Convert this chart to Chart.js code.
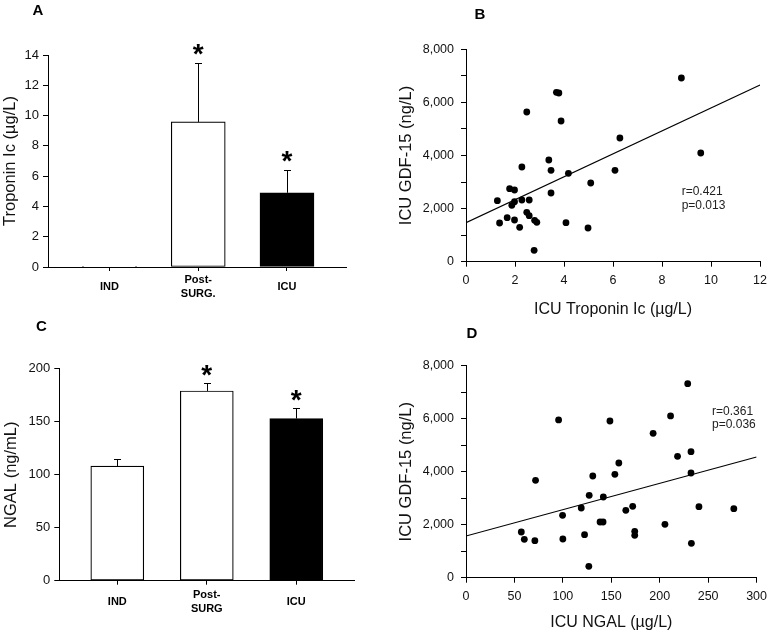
<!DOCTYPE html>
<html><head><meta charset="utf-8">
<script src="https://cdn.jsdelivr.net/npm/chart.js@4.4.1/dist/chart.umd.min.js"></script>
<style>
html,body{margin:0;padding:0;background:#fff;}
#wrap{position:relative;width:773px;height:634px;overflow:hidden;background:#fff;}
canvas{position:absolute;}
</style></head><body>
<div id="wrap">
<canvas id="cA" width="390" height="310" style="left:0;top:0"></canvas>
<canvas id="cB" width="383" height="320" style="left:390px;top:0"></canvas>
<canvas id="cC" width="390" height="317" style="left:0;top:317px"></canvas>
<canvas id="cD" width="383" height="317" style="left:390px;top:317px"></canvas>
</div>
<script>
// ---------- DATA ----------
// Panel A: Troponin Ic bars
const catA = ['IND', 'Post-\nSURG.', 'ICU'];
const troponinMean = [0.05, 9.58, 4.9];
const troponinErr = [0, 3.87, 1.5];
const troponinSig = [false, true, true];

// Panel C: NGAL bars
const catC = ['IND', 'Post-\nSURG', 'ICU'];
const ngalMean = [108.2, 179, 153];
const ngalErr = [6.3, 7.8, 10];
const ngalSig = [false, true, true];

// Panel B: ICU Troponin Ic vs ICU GDF-15
const tropX = [8.79, 9.58, 3.69, 3.79, 2.48, 3.88, 6.28, 3.38, 2.28, 3.47, 4.18, 6.08, 5.09, 3.47, 1.78, 1.98,
               1.28, 2.28, 2.58, 1.98, 1.87, 2.48, 2.58, 2.80, 2.89, 1.68, 1.98, 1.37, 2.19, 4.08, 4.98, 2.78];
const gdfB = [6919, 4094, 6380, 6354, 5638, 5299, 4659, 3830, 3567, 3442, 3329, 3442, 2964, 2588, 2750, 2700,
              2298, 2324, 2324, 2260, 2124, 1861, 1733, 1559, 1484, 1657, 1571, 1458, 1296, 1469, 1269, 429];
const fitBx = [0, 12];
const fitBy = [1470, 6658];
const statsB = ['r=0.421', 'p=0.013'];
const statsBAt = [8.8, 2620];

// Panel D: ICU NGAL vs ICU GDF-15
const ngalX = [228.9, 95.6, 148.6, 211.2, 193.2, 218.4, 232.3, 232.3, 157.8, 153.7, 130.9, 71.8, 127.2, 141.8, 119.0, 172.1,
               165.0, 240.5, 276.5, 99.7, 138.4, 141.5, 205.4, 57.1, 174.2, 174.2, 60.2, 71.1, 100.0, 122.4, 232.7, 126.8];
const gdfD = [7322, 5952, 5914, 6103, 5450, 4581, 4755, 3951, 4329, 3902, 3838, 3676, 3110, 3046, 2630, 2695,
              2544, 2680, 2604, 2355, 2102, 2102, 2015, 1725, 1751, 1600, 1449, 1396, 1461, 1623, 1298, 430];
const fitDx = [0, 300];
const fitDy = [1572, 4553];
const statsD = ['r=0.361', 'p=0.036'];
const statsDAt = [254, 6272];

// ---------- STYLE / HELPERS ----------
const FONT = "'Liberation Sans', Arial, Helvetica, sans-serif";
Chart.defaults.font.family = FONT;
Chart.defaults.color = '#111';

const annotPlugin = {
  id: 'annot',
  afterDatasetsDraw(chart, args, o) {
    const ctx = chart.ctx;
    ctx.save();
    ctx.fillStyle = '#000';
    ctx.strokeStyle = '#000';
    ctx.lineWidth = 1;
    if (o.err) {
      const meta = chart.getDatasetMeta(0);
      const ys = chart.scales.y;
      meta.data.forEach((bar, i) => {
        const e = o.err[i];
        const top = ys.getPixelForValue(o.mean[i] + e);
        const x = Math.round(bar.x) + 0.5;
        if (e > 0) {
          ctx.beginPath();
          ctx.moveTo(x, bar.y); ctx.lineTo(x, Math.round(top) + 0.5);
          ctx.moveTo(x - 3.5, Math.round(top) + 0.5); ctx.lineTo(x + 3.5, Math.round(top) + 0.5);
          ctx.stroke();
        }
        if (o.sig[i]) {
          ctx.font = 'bold 28px ' + FONT;
          ctx.textAlign = 'center';
          ctx.textBaseline = 'alphabetic';
          const m = ctx.measureText('*');
          const cy = top - o.starGap;
          ctx.fillText('*', bar.x, cy + (m.actualBoundingBoxAscent - m.actualBoundingBoxDescent) / 2);
        }
      });
    }
    if (o.stats) {
      ctx.font = '12px ' + FONT;
      ctx.fillStyle = '#222';
      ctx.textAlign = 'left';
      ctx.textBaseline = 'middle';
      const x = chart.scales.x.getPixelForValue(o.statsAt[0]);
      const y = chart.scales.y.getPixelForValue(o.statsAt[1]);
      o.stats.forEach((t, i) => ctx.fillText(t, x, y + i * 13.5));
    }
    if (o.letter) {
      ctx.font = 'bold 15px ' + FONT;
      ctx.fillStyle = '#000';
      ctx.textAlign = 'center';
      ctx.textBaseline = 'middle';
      ctx.fillText(o.letter, o.letterPos[0], o.letterPos[1]);
    }
    ctx.restore();
  }
};

const gridOpts = (tl) => ({ display: true, drawOnChartArea: false, drawTicks: true, tickLength: tl, color: '#000', lineWidth: 1 });
const borderOpts = { display: true, color: '#000', width: 1 };

function barChart(id, cats, mean, err, sig, cfg) {
  return new Chart(document.getElementById(id), {
    type: 'bar',
    data: {
      datasets: [{
        data: mean.map((v, i) => ({ x: i + 1, y: v })),
        backgroundColor: ['#ffffff', '#ffffff', '#000000'],
        borderColor: '#000',
        borderWidth: 1.2,
        borderSkipped: false,
        barThickness: cfg.barW
      }]
    },
    options: {
      responsive: false, animation: false,
      layout: { padding: cfg.pad },
      plugins: {
        legend: { display: false }, tooltip: { enabled: false },
        annot: { err, mean, sig, starGap: cfg.starGap, letter: cfg.letter, letterPos: cfg.letterPos }
      },
      scales: {
        x: {
          type: 'linear', min: cfg.xMin, max: cfg.xMax, offset: false,
          afterBuildTicks: s => { s.ticks = cats.map((c, i) => ({ value: i + 1 })); },
          ticks: {
            autoSkip: false, maxRotation: 0, crossAlign: 'center', padding: cfg.xPad, color: '#000',
            font: { size: 11, weight: 'bold', lineHeight: 1.3 },
            callback: v => cats[v - 1].split('\n')
          },
          grid: { ...gridOpts(4), offset: false }, border: borderOpts,
          afterFit: s => { s.height = cfg.xH; }
        },
        y: {
          min: 0, max: cfg.yMax,
          ticks: { stepSize: cfg.yStep, padding: 4, color: '#111', font: { size: 13 } },
          grid: gridOpts(5), border: borderOpts,
          title: { display: true, text: cfg.yTitle, color: '#111', font: { size: 16.5 }, padding: { top: cfg.yTitlePad, bottom: 0 } },
          afterFit: s => { s.width = cfg.yW; }
        }
      }
    },
    plugins: [annotPlugin]
  });
}

function scatterChart(id, xs, ys, fx, fy, stats, statsAt, cfg) {
  return new Chart(document.getElementById(id), {
    type: 'scatter',
    data: {
      datasets: [
        { data: xs.map((x, i) => ({ x, y: ys[i] })), backgroundColor: '#000', borderColor: '#000', pointRadius: 3.4, pointBorderWidth: 0 },
        { data: fx.map((x, i) => ({ x, y: fy[i] })), showLine: true, borderColor: '#000', borderWidth: 1.2, pointRadius: 0 }
      ]
    },
    options: {
      responsive: false, animation: false,
      layout: { padding: cfg.pad },
      plugins: {
        legend: { display: false }, tooltip: { enabled: false },
        annot: { stats, statsAt, letter: cfg.letter, letterPos: cfg.letterPos }
      },
      scales: {
        x: {
          type: 'linear', min: 0, max: cfg.xMax,
          ticks: { stepSize: cfg.xStep, autoSkip: false, maxRotation: 0, padding: cfg.xPad, color: '#111', font: { size: 12.5 } },
          grid: gridOpts(5), border: borderOpts,
          title: { display: true, text: cfg.xTitle, color: '#111', font: { size: 16 }, padding: { top: 0, bottom: cfg.xTitlePad } },
          afterFit: s => { s.height = cfg.xH; }
        },
        y: {
          min: 0, max: 8000,
          ticks: { stepSize: 1000, autoSkip: false, padding: 7, color: '#111', font: { size: 12.5 },
                   callback: v => (v % 2000 === 0 ? v.toLocaleString('en-US') : '') },
          grid: gridOpts(5), border: borderOpts,
          title: { display: true, text: 'ICU GDF-15 (ng/L)', color: '#111', font: { size: 16.5 }, padding: { top: cfg.yTitlePad, bottom: 0 } },
          afterFit: s => { s.width = cfg.yW; }
        }
      }
    },
    plugins: [annotPlugin]
  });
}

// ---------- CHARTS ----------
barChart('cA', catA, troponinMean, troponinErr, troponinSig, {
  barW: 54, xMin: 0.307, xMax: 3.665, yMax: 14, yStep: 2, yTitle: 'Troponin Ic (µg/L)',
  pad: { top: 55, right: 44, left: 0, bottom: 0 }, xH: 43, yW: 48, xPad: 9, yTitlePad: 1,
  starGap: 14, letter: 'A', letterPos: [38, 10.5]
});
barChart('cC', catC, ngalMean, ngalErr, ngalSig, {
  barW: 53, xMin: 0.352, xMax: 3.645, yMax: 200, yStep: 50, yTitle: 'NGAL (ng/mL)',
  pad: { top: 51.7, right: 36, left: 0, bottom: 0 }, xH: 53.3, yW: 59.3, xPad: 10, yTitlePad: 2,
  starGap: 12, letter: 'C', letterPos: [41.5, 10]
});
scatterChart('cB', tropX, gdfB, fitBx, fitBy, statsB, statsBAt, {
  xMax: 12, xStep: 2, xTitle: 'ICU Troponin Ic (µg/L)',
  pad: { top: 49.3, right: 12.3, left: 0, bottom: 0 }, xH: 58.3, yW: 76, xPad: 6, xTitlePad: 0.4, yTitlePad: 7,
  letter: 'B', letterPos: [90, 15]
});
scatterChart('cD', ngalX, gdfD, fitDx, fitDy, statsD, statsDAt, {
  xMax: 300, xStep: 50, xTitle: 'ICU NGAL (µg/L)',
  pad: { top: 48.7, right: 13, left: 0, bottom: 0 }, xH: 56.3, yW: 76, xPad: 6, xTitlePad: 1.4, yTitlePad: 7,
  letter: 'D', letterPos: [82, 17]
});
</script>
</body></html>
